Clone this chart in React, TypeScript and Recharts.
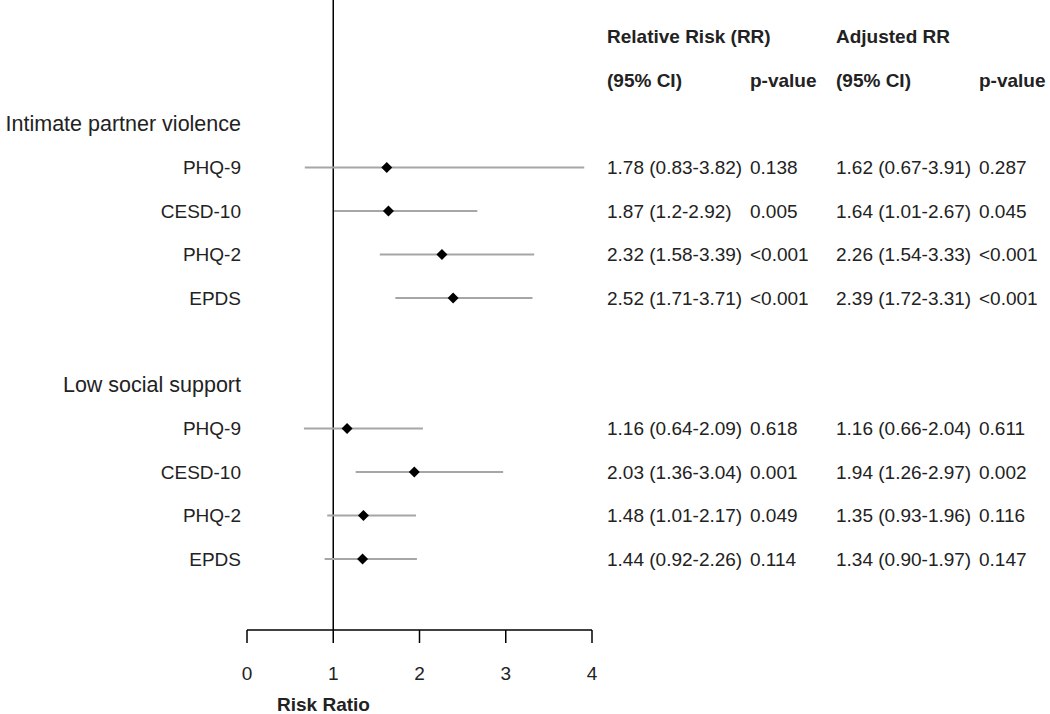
import React from 'react';
import { ScatterChart, Scatter, XAxis, YAxis, ReferenceLine, ErrorBar, Label } from 'recharts';

const FONT = '"Liberation Sans", Arial, sans-serif';

// left-hand labels, by row position (0 = top row of the plot)
const labelRows = [0, 1, 2, 3, 4, 6, 7, 8, 9, 10];
const labelNames = [
  'Intimate partner violence', 'PHQ-9', 'CESD-10', 'PHQ-2', 'EPDS',
  'Low social support', 'PHQ-9', 'CESD-10', 'PHQ-2', 'EPDS',
];
const groupRows = [0, 6];

// adjusted risk ratios plotted as diamonds with 95% CI
const pointRows = [1, 2, 3, 4, 7, 8, 9, 10];
const adjRR = [1.62, 1.64, 2.26, 2.39, 1.16, 1.94, 1.35, 1.34];
const adjLow = [0.67, 1.01, 1.54, 1.72, 0.66, 1.26, 0.93, 0.90];
const adjHigh = [3.91, 2.67, 3.33, 3.31, 2.04, 2.97, 1.96, 1.97];

// table text
const rrCI = ['1.78 (0.83-3.82)', '1.87 (1.2-2.92)', '2.32 (1.58-3.39)', '2.52 (1.71-3.71)',
  '1.16 (0.64-2.09)', '2.03 (1.36-3.04)', '1.48 (1.01-2.17)', '1.44 (0.92-2.26)'];
const rrP = ['0.138', '0.005', '<0.001', '<0.001', '0.618', '0.001', '0.049', '0.114'];
const adjCI = ['1.62 (0.67-3.91)', '1.64 (1.01-2.67)', '2.26 (1.54-3.33)', '2.39 (1.72-3.31)',
  '1.16 (0.66-2.04)', '1.94 (1.26-2.97)', '1.35 (0.93-1.96)', '1.34 (0.90-1.97)'];
const adjP = ['0.287', '0.045', '<0.001', '<0.001', '0.611', '0.002', '0.116', '0.147'];

const headerRows = [-2, -1];
const headerCol1 = ['Relative Risk (RR)', '(95% CI)'];
const headerCol2 = ['', 'p-value'];
const headerCol3 = ['Adjusted RR', '(95% CI)'];
const headerCol4 = ['', 'p-value'];

const xTicks = [0, 1, 2, 3, 4];

const points = pointRows.map((row, i) => ({
  row,
  rr: adjRR[i],
  err: [adjRR[i] - adjLow[i], adjHigh[i] - adjRR[i]],
}));

const tableRows = [
  ...headerRows.map((row, i) => ({ row, x: 4, bold: true, c: [headerCol1[i], headerCol2[i], headerCol3[i], headerCol4[i]] })),
  ...pointRows.map((row, i) => ({ row, x: 4, bold: false, c: [rrCI[i], rrP[i], adjCI[i], adjP[i]] })),
];

const colX = [607, 750, 836, 979];

const Diamond = (props: any) => {
  const { cx, cy } = props;
  const s = 5.5;
  return <polygon points={`${cx},${cy - s} ${cx + s},${cy} ${cx},${cy + s} ${cx - s},${cy}`} fill="#000" />;
};

const TableRow = (props: any) => {
  const { cy, payload } = props;
  return (
    <g>
      {payload.c.map((t: string, i: number) => (
        <text key={i} x={colX[i]} y={cy} dominantBaseline="central" fontSize={19}
          fontFamily={FONT} fontWeight={payload.bold ? 'bold' : 'normal'} fill="#222">{t}</text>
      ))}
    </g>
  );
};

const RowTick = (props: any) => {
  const { x, y, payload } = props;
  const idx = labelRows.indexOf(payload.value);
  if (idx < 0) return null;
  const isGroup = groupRows.includes(payload.value);
  return (
    <text x={x + 1} y={y} textAnchor="end" dominantBaseline="central"
      fontSize={isGroup ? 21.5 : 19} fontFamily={FONT} fill="#222">{labelNames[idx]}</text>
  );
};

export default function App() {
  return (
    <div style={{ position: 'absolute', left: 0, top: 0, background: '#fff', fontFamily: FONT }}>
      <ScatterChart width={1050} height={714} margin={{ top: 0, right: 458, bottom: 0, left: 0 }}>
        <XAxis
          type="number"
          dataKey="rr"
          domain={[0, 4]}
          ticks={xTicks}
          height={84}
          tickSize={13}
          tickMargin={24}
          axisLine={{ stroke: '#000', strokeWidth: 1.5 }}
          tickLine={{ stroke: '#000', strokeWidth: 1.5 }}
          tick={{ fontSize: 19, fill: '#222', fontFamily: FONT }}
        >
          <Label value="Risk Ratio" position="insideBottom" offset={3} dx={-96}
            style={{ fontSize: 19, fontWeight: 'bold', fill: '#222', fontFamily: FONT }} />
        </XAxis>
        <YAxis
          type="number"
          dataKey="row"
          domain={[-2.85, 11.63]}
          reversed
          ticks={labelRows}
          width={247}
          axisLine={false}
          tickLine={false}
          tickSize={6}
          tickMargin={1}
          interval={0}
          tick={<RowTick />}
        />
        <ReferenceLine x={1} stroke="#000" strokeWidth={1.5} />
        <Scatter data={points} dataKey="row" shape={<Diamond />} isAnimationActive={false}>
          <ErrorBar dataKey="err" direction="x" width={0} stroke="#a6a6a6" strokeWidth={2} />
        </Scatter>
        <Scatter data={tableRows} dataKey="row" shape={<TableRow />} isAnimationActive={false} />
      </ScatterChart>
    </div>
  );
}
